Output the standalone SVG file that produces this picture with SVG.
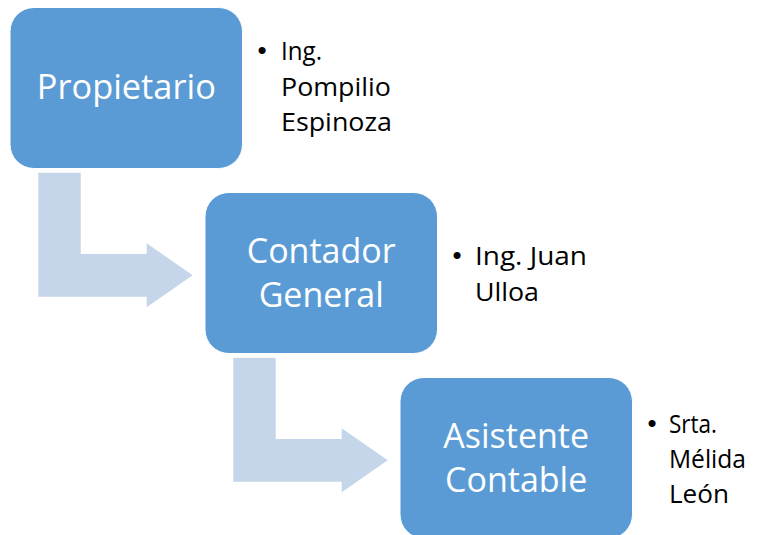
<svg xmlns="http://www.w3.org/2000/svg" width="763" height="535" viewBox="0 0 763 535">
<style>
.box{fill:#5b9bd5;stroke:#ffffff;stroke-width:1}
.arrow{fill:#c5d5ea}
.lbl{font-family:"Open Sans","Noto Sans",sans-serif;font-size:34px;fill:#ffffff;text-anchor:middle}
.bul{font-family:"Open Sans","Noto Sans",sans-serif;font-size:26px;fill:#000000}
.dot{font-family:"Liberation Sans",Arial,sans-serif;font-size:26px;fill:#000000;text-anchor:middle}
</style>
<rect width="763" height="535" fill="#ffffff"/>
<g id="connectors">
<polygon class="arrow" points="38.3,172.7 80.7,172.7 80.7,254 146.7,254 146.7,243.3 192.7,275.3 146.7,307.3 146.7,296.7 38.3,296.7"/>
<polygon class="arrow" transform="translate(195,185)" points="38.3,172.7 80.7,172.7 80.7,254 146.7,254 146.7,243.3 192.7,275.3 146.7,307.3 146.7,296.7 38.3,296.7"/>
</g>
<g id="propietario">
<rect class="box" x="10" y="7.5" width="232.5" height="161" rx="24"/>
<text class="lbl" x="126.3" y="99" textLength="179" lengthAdjust="spacingAndGlyphs">Propietario</text>
</g>
<g id="propietario-list">
<text class="dot" x="262" y="59">•</text>
<text class="bul" x="281" y="60" textLength="41" lengthAdjust="spacingAndGlyphs">Ing.</text>
<text class="bul" x="281" y="95.5" textLength="110" lengthAdjust="spacingAndGlyphs">Pompilio</text>
<text class="bul" x="281" y="131" textLength="111" lengthAdjust="spacingAndGlyphs">Espinoza</text>
</g>
<g id="contador">
<rect class="box" x="205" y="192.5" width="232.5" height="161" rx="24"/>
<text class="lbl" x="321.2" y="262.7">Contador</text>
<text class="lbl" x="321.2" y="306.7">General</text>
</g>
<g id="contador-list">
<text class="dot" x="457" y="264">•</text>
<text class="bul" x="475" y="265" textLength="112" lengthAdjust="spacingAndGlyphs">Ing. Juan</text>
<text class="bul" x="475" y="300.5" textLength="64" lengthAdjust="spacingAndGlyphs">Ulloa</text>
</g>
<g id="asistente">
<rect class="box" x="400" y="377.5" width="232.5" height="161" rx="24"/>
<text class="lbl" x="516.2" y="447.5">Asistente</text>
<text class="lbl" x="516.2" y="491.5">Contable</text>
</g>
<g id="asistente-list">
<text class="dot" x="652" y="432">•</text>
<text class="bul" x="669" y="433" textLength="48" lengthAdjust="spacingAndGlyphs">Srta.</text>
<text class="bul" x="669" y="468" textLength="77" lengthAdjust="spacingAndGlyphs">Mélida</text>
<text class="bul" x="669" y="503" textLength="60" lengthAdjust="spacingAndGlyphs">León</text>
</g>
</svg>
